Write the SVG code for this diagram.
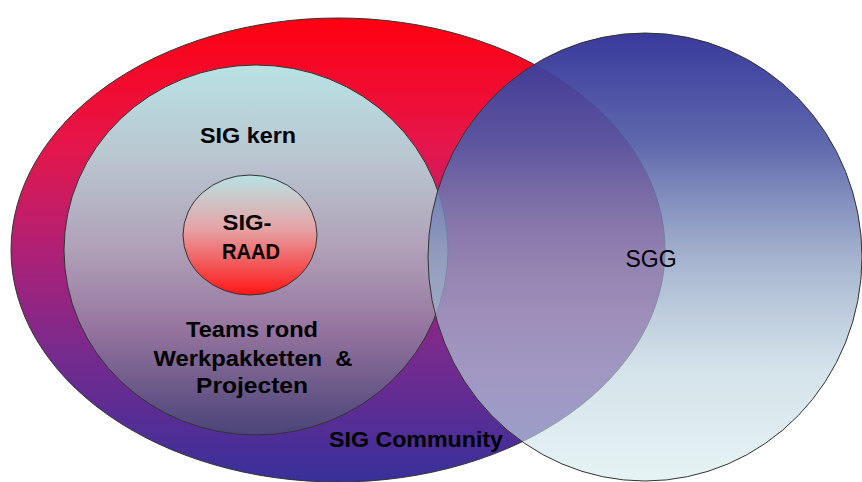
<svg xmlns="http://www.w3.org/2000/svg" width="862" height="482" viewBox="0 0 862 482">
<defs>
<linearGradient id="gBig" x1="0" y1="0" x2="0" y2="1">
<stop offset="0" stop-color="#ff0010"/>
<stop offset="0.28" stop-color="#e4164c"/>
<stop offset="0.5" stop-color="#b02075"/>
<stop offset="0.72" stop-color="#782a8e"/>
<stop offset="1" stop-color="#38309a"/>
</linearGradient>
<linearGradient id="gKern" x1="0" y1="0" x2="0" y2="1">
<stop offset="0" stop-color="#b8e2e4"/>
<stop offset="0.25" stop-color="#b9c6d0"/>
<stop offset="0.5" stop-color="#b0a0b8"/>
<stop offset="0.72" stop-color="#94739e"/>
<stop offset="1" stop-color="#4a4478"/>
</linearGradient>
<linearGradient id="gRaad" x1="0" y1="0" x2="0" y2="1">
<stop offset="0" stop-color="#b8e2e4"/>
<stop offset="0.45" stop-color="#e6a3a6"/>
<stop offset="1" stop-color="#ff1515"/>
</linearGradient>
<linearGradient id="gSgg" x1="0" y1="0" x2="0" y2="1">
<stop offset="0" stop-color="#333399" stop-opacity="0.97"/>
<stop offset="0.25" stop-color="#525ca6" stop-opacity="0.92"/>
<stop offset="0.5" stop-color="#8a9cc0" stop-opacity="0.78"/>
<stop offset="0.75" stop-color="#bcd3de" stop-opacity="0.64"/>
<stop offset="1" stop-color="#d6ecee" stop-opacity="0.6"/>
</linearGradient>
</defs>
<style>
.shape{stroke:#333;stroke-width:1}
.b{font-family:"Liberation Sans",Arial,sans-serif;font-weight:bold;font-size:22px;fill:#000;text-anchor:middle}
.n{font-family:"Liberation Sans",Arial,sans-serif;font-size:23px;fill:#000;text-anchor:middle}
</style>
<rect width="862" height="482" fill="#fff"/>
<g id="community">
<ellipse class="shape" cx="338" cy="250" rx="327" ry="232" fill="url(#gBig)"/>
<text class="b" x="416" y="447" textLength="174" lengthAdjust="spacingAndGlyphs">SIG Community</text>
</g>
<g id="kern">
<ellipse class="shape" cx="256" cy="250" rx="192" ry="185" fill="url(#gKern)"/>
<text class="b" x="248" y="143" textLength="96" lengthAdjust="spacingAndGlyphs">SIG kern</text>
<text class="b" x="252" y="337" textLength="132" lengthAdjust="spacingAndGlyphs">Teams rond</text>
<text class="b" x="253" y="366" textLength="199" lengthAdjust="spacingAndGlyphs" xml:space="preserve">Werkpakketten  &amp;</text>
<text class="b" x="252" y="393" textLength="112" lengthAdjust="spacingAndGlyphs">Projecten</text>
</g>
<g id="raad">
<ellipse class="shape" cx="250" cy="235" rx="67" ry="60" fill="url(#gRaad)"/>
<text class="b" x="247" y="230" textLength="49" lengthAdjust="spacingAndGlyphs">SIG-</text>
<text class="b" x="251" y="259" textLength="58" lengthAdjust="spacingAndGlyphs">RAAD</text>
</g>
<g id="sgg">
<ellipse class="shape" cx="645" cy="257" rx="217" ry="224" fill="url(#gSgg)" stroke="#555"/>
<text class="n" x="651" y="267">SGG</text>
</g>
<g id="connectors"/>
</svg>
